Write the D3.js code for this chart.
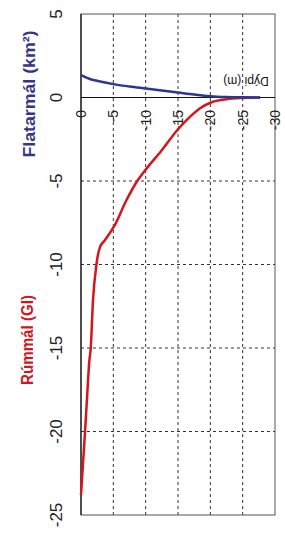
<!DOCTYPE html>
<html>
<head>
<meta charset="utf-8">
<script src="https://cdn.jsdelivr.net/npm/d3@7"></script>
<style>
  body { margin: 0; background: #fff; }
  text { font-family: "Liberation Sans", Arial, sans-serif; }
</style>
</head>
<body>
<div id="chart"></div>
<script>
// Depth curve data (chart is drawn turned on its side)
let areaDepth = [0, -1.6, -2.6, -5, -7.5, -10, -12.5, -15, -17.5, -20, -22.5, -25, -27.7];
let areaValue = [1.34, 1.08, 0.99, 0.80, 0.66, 0.54, 0.42, 0.30, 0.18, 0.08, 0.03, 0.01, 0];

let volDepth = [0, -0.62, -0.97, -1.29, -1.5, -1.85, -2.37, -2.6, -2.94, -3.66, -5.2, -7.0, -8.7, -9.84, -12.4, -15, -17.0, -18.6, -20.1, -20.9, -22.5, -25, -27.7];
let volValue = [-23.8, -20.04, -17.75, -15.75, -15.05, -12.16, -10.06, -9.46, -8.96, -8.56, -7.66, -6.17, -5.0, -4.4, -3.2, -1.9, -1.1, -0.6, -0.3, -0.2, -0.1, -0.03, 0];

let valueTicks = [5, 0, -5, -10, -15, -20, -25];
let depthTicks = [0, -5, -10, -15, -20, -25, -30];

let svgWidth = 285;
let svgHeight = 536;

let svg = d3.select("#chart")
    .append("svg")
    .attr("width", svgWidth)
    .attr("height", svgHeight);

// depth runs left to right, values run top to bottom
let xScale = d3.scaleLinear().domain([0, -30]).range([81, 275]);
let yScale = d3.scaleLinear().domain([5, -25]).range([14, 515]);

// Grid lines
svg.append("g")
    .selectAll("line")
    .data(depthTicks.filter(d => d < 0 && d > -30))
    .enter()
    .append("line")
    .attr("x1", d => xScale(d))
    .attr("x2", d => xScale(d))
    .attr("y1", yScale(5))
    .attr("y2", yScale(-25))
    .attr("stroke", "#333")
    .attr("stroke-width", 1)
    .attr("stroke-dasharray", "3,3");

svg.append("g")
    .selectAll("line")
    .data(valueTicks.filter(d => d < 0 && d > -25))
    .enter()
    .append("line")
    .attr("x1", xScale(0))
    .attr("x2", xScale(-30))
    .attr("y1", d => yScale(d))
    .attr("y2", d => yScale(d))
    .attr("stroke", "#333")
    .attr("stroke-width", 1)
    .attr("stroke-dasharray", "3,3");

// Frame
svg.append("rect")
    .attr("x", xScale(0))
    .attr("y", yScale(5))
    .attr("width", xScale(-30) - xScale(0))
    .attr("height", yScale(-25) - yScale(5))
    .attr("fill", "none")
    .attr("stroke", "#555")
    .attr("stroke-width", 1);

svg.append("line")
    .attr("x1", xScale(0))
    .attr("x2", xScale(0))
    .attr("y1", yScale(5))
    .attr("y2", yScale(-25))
    .attr("stroke", "#111")
    .attr("stroke-width", 1.2);

// zero line
svg.append("line")
    .attr("x1", xScale(0))
    .attr("x2", xScale(-30))
    .attr("y1", yScale(0))
    .attr("y2", yScale(0))
    .attr("stroke", "#111")
    .attr("stroke-width", 1.2);

// Value tick labels (left)
svg.append("g")
    .selectAll("text")
    .data(valueTicks)
    .enter()
    .append("text")
    .attr("transform", d => `translate(62, ${yScale(d)}) rotate(-90)`)
    .attr("text-anchor", "middle")
    .attr("font-size", "17px")
    .attr("fill", "#222")
    .text(d => d);

// Depth tick labels
svg.append("g")
    .selectAll("text")
    .data(depthTicks)
    .enter()
    .append("text")
    .attr("transform", d => `translate(${xScale(d)}, 110) rotate(-90)`)
    .attr("text-anchor", "end")
    .attr("dy", "0.35em")
    .attr("font-size", "14px")
    .attr("fill", "#222")
    .text(d => d);

// Axis titles
svg.append("text")
    .attr("transform", `translate(35, 94) rotate(-90)`)
    .attr("text-anchor", "middle")
    .attr("font-size", "16px")
    .attr("font-weight", "bold")
    .attr("fill", "#36358c")
    .attr("textLength", 127)
    .attr("lengthAdjust", "spacingAndGlyphs")
    .text("Flatarmál (km²)");

svg.append("text")
    .attr("transform", `translate(33, 340) rotate(-90)`)
    .attr("text-anchor", "middle")
    .attr("font-size", "16px")
    .attr("font-weight", "bold")
    .attr("fill", "#d3141c")
    .attr("textLength", 90)
    .attr("lengthAdjust", "spacingAndGlyphs")
    .text("Rúmmál (Gl)");

svg.append("text")
    .attr("transform", `translate(246, 81) rotate(180)`)
    .attr("text-anchor", "middle")
    .attr("dy", "0.35em")
    .attr("font-size", "12px")
    .attr("fill", "#111")
    .text("Dýpi (m)");

// Curves
let line = d3.line()
    .x(d => xScale(d[0]))
    .y(d => yScale(d[1]))
    .curve(d3.curveMonotoneX);

svg.append("path")
    .datum(volDepth.map((d, i) => [d, volValue[i]]))
    .attr("d", line)
    .attr("fill", "none")
    .attr("stroke", "#d4161c")
    .attr("stroke-width", 2.5);

svg.append("path")
    .datum(areaDepth.map((d, i) => [d, areaValue[i]]))
    .attr("d", line)
    .attr("fill", "none")
    .attr("stroke", "#2c3790")
    .attr("stroke-width", 2.5);
</script>
</body>
</html>
